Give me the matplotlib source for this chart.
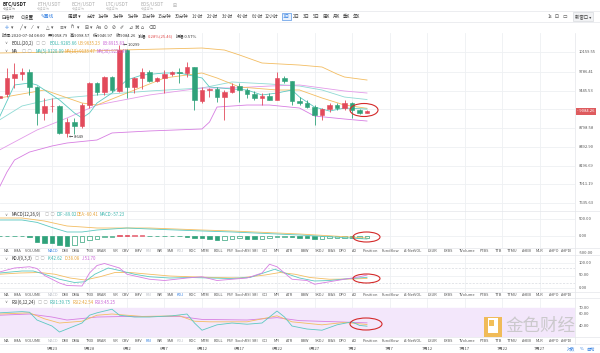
import numpy as np
import matplotlib.pyplot as plt
from matplotlib import transforms
from matplotlib.patches import Ellipse, Rectangle
from matplotlib.lines import Line2D

plt.rcParams['font.family'] = ['Noto Sans CJK SC', 'DejaVu Sans']

# daily candles, day 0 = 5月17
days = np.arange(-1, 49)
opens = [9320, 9383, 9672, 9745, 9782, 9509, 9052, 9173, 9180, 8717, 8899, 8832, 9190, 9581, 9419, 9690,
         9437, 10197, 9509, 9672, 9782, 9617, 9672, 9745, 9782, 9764, 9875, 9260, 9455, 9473, 9330, 9419,
         9526, 9455, 9383, 9313, 9348, 9278, 9672, 9617, 9260, 9225, 9155, 9018, 9121, 9190, 9138, 9225,
         9104, 9058.79]
highs = [9372, 9856, 9950, 9856, 9837, 9520, 9313, 9313, 9185, 8970, 8970, 9225, 9600, 9600, 9700, 9708,
         10299, 10210, 9690, 9856, 9818, 9690, 9818, 9800, 9856, 9970, 9880, 9509, 9491, 9509, 9455, 9581,
         9581, 9491, 9437, 9401, 9401, 9782, 9708, 9620, 9330, 9278, 9190, 9138, 9225, 9225, 9278, 9243,
         9121, 9098.57]
lows = [9300, 9330, 9491, 9636, 9365, 8849, 8934, 9070, 8700, 8649, 8700, 8800, 9138, 9365, 9365, 9419,
        9419, 9313, 9400, 9473, 9600, 9600, 9400, 9708, 9581, 9690, 9104, 9225, 9330, 9243, 8934, 9401,
        9243, 9313, 9278, 9190, 9270, 9270, 9581, 9190, 9190, 9138, 8849, 8934, 9070, 9104, 9104, 8967,
        9040, 9046.97]
closes = [9345, 9672, 9745, 9782, 9509, 9052, 9173, 9180, 8717, 8899, 8832, 9190, 9581, 9419, 9690, 9455,
          10197, 9509, 9672, 9782, 9617, 9672, 9745, 9782, 9764, 9875, 9278, 9455, 9473, 9330, 9419, 9526,
          9455, 9383, 9313, 9348, 9278, 9672, 9617, 9260, 9225, 9155, 9018, 9121, 9190, 9138, 9225, 9104,
          9058.79, 9084.26]

date_days = [6, 11, 16, 21, 26, 31, 36, 41, 46, 51, 56, 61, 66, 71]
date_labels = ['5月23', '5月28', '6月2', '6月7', '6月12', '6月17', '6月22', '6月27',
               '7月2', '7月7', '7月12', '7月17', '7月22', '7月27']

# BOLL / MA lines
ub_d = [-1, 7, 15, 26, 29, 31, 34, 39, 42, 44, 45, 48]
ub_v = [10140, 10159, 10197, 10236, 10197, 10102, 9950, 9912, 9875, 9745, 9690, 9635]
mid_d = [-1, 2, 6, 12, 19, 26, 30, 35, 39, 42, 45, 48]
mid_v = [8934, 9173, 9296, 9366, 9437, 9491, 9599, 9563, 9526, 9455, 9330, 9286]
lb_d = [-1, 0, 1, 3, 6, 8, 12, 14, 19, 26, 27, 28, 32, 35, 39, 41, 45, 48]
lb_v = [7870, 8097, 8282, 8408, 8505, 8553, 8602, 8717, 8750, 8783, 8899, 9155, 9190, 9190, 9138,
        9001, 8950, 8916]
ma5_d = [-1, 1, 3, 4, 6, 7, 9, 10, 11, 12, 14, 16, 18, 21, 23, 26, 27, 30, 32, 34, 36, 38, 39, 41,
         43, 45, 48]
ma5_v = [8984, 9545, 9581, 9545, 9366, 9278, 9052, 8967, 9052, 9225, 9401, 9636, 9726, 9764, 9764,
         9672, 9509, 9473, 9455, 9366, 9401, 9455, 9330, 9155, 9086, 9138, 9120]
ma10_d = [-1, 5, 10, 12, 17, 21, 26, 28, 31, 36, 39, 42, 45, 48]
ma10_v = [9313, 9455, 9225, 9190, 9455, 9672, 9764, 9672, 9509, 9455, 9455, 9313, 9190, 9133]
ma30_d = [-1, 4, 8, 12, 19, 26, 30, 35, 39, 42, 45, 48]
ma30_v = [8441, 8766, 8967, 9190, 9366, 9491, 9491, 9526, 9545, 9491, 9437, 9401]

# MACD
macd_hist = [-10, -10, -10, -10, -15, -167, -196, -216, -265, -284, -265, -167, -118, -78, -39, -15,
             30, 35, 30, 20, -10, -10, -10, -8, -10, -20, -60, -70, -95, -110, -108, -90, -70, -85,
             -95, -80, -70, -40, -30, -40, -50, -55, -90, -85, -60, -55, -50, -60, -58, -57]
dif_d = [-1, 2, 4, 6, 8, 10, 12, 16, 19, 26, 30, 39, 48]
dif_v = [470, 470, 400, 250, 118, 118, 176, 235, 206, 147, 118, 29, -89]
dea_d = [-1, 2, 5, 8, 10, 12, 16, 19, 26, 30, 39, 48]
dea_v = [529, 529, 440, 294, 265, 235, 235, 235, 176, 147, 59, -60]

# KDJ
k_d = [-1, 2, 3.5, 5, 7, 9, 10.4, 11.7, 13.5, 15, 17, 19, 21.7, 24.4, 27, 29.7, 32.4, 34.4, 35.7,
       37.5, 39, 41, 43, 45, 48]
k_v = [60, 68, 68, 55, 35, 22, 25, 55, 80, 70, 55, 45, 40, 42, 40, 38, 42, 62, 75, 55, 40, 28, 30, 36, 42.62]
d_d = [-1, 1.7, 4.4, 6.4, 8.4, 10.4, 12.4, 14.4, 16.4, 19, 21.7, 24.4, 27.7, 31, 34.4, 36.4, 38.4,
       40.4, 43, 45.7, 48]
d_v = [55, 60, 62, 55, 40, 32, 45, 62, 62, 55, 48, 45, 42, 40, 52, 62, 55, 42, 35, 36, 38.08]
j_d = [-1, 1, 3, 4, 5, 7, 8, 10, 11, 12, 13, 15, 16, 19, 21, 24, 26, 28, 30, 32, 34, 35, 36, 38, 40,
       41, 43, 45, 47, 48]
j_v = [64, 80, 85, 78, 50, 20, 10, 8, 60, 90, 98, 80, 55, 35, 30, 40, 45, 30, 35, 40, 60, 95, 85, 35,
       30, 15, 25, 35, 45, 51.7]

# RSI
rsi1_d = [-1, 2, 3, 4, 6, 7, 8, 10, 11, 12, 14, 15, 17, 19, 22, 24, 25, 26, 28, 30, 32, 34, 36, 37,
          38, 40, 42, 44, 46, 47, 48]
rsi1_v = [62, 64, 63, 50, 40, 30, 35, 45, 58, 62, 68, 58, 55, 55, 57, 60, 45, 33, 42, 45, 43, 45, 65,
          55, 40, 35, 33, 42, 47, 41, 39.75]
rsi2_d = [-1, 3, 5, 7, 10, 12, 14, 18, 23, 25, 27, 32, 36, 38, 42, 45, 48]
rsi2_v = [60, 62, 52, 45, 48, 58, 60, 56, 57, 48, 47, 47, 57, 47, 42, 46, 42.54]
rsi3_d = [-1, 3, 6, 8, 12, 16, 23, 26, 32, 36, 39, 44, 48]
rsi3_v = [58, 60, 55, 50, 55, 56, 56, 51, 50, 54, 49, 47, 45.25]

price_ticks = [10159.55, 9786.41, 9445.53, 8798.58, 8492.90, 8196.69, 7911.19, 7635.63]

info_parts = [('时间:2020-07-04 08:00', '#333333'), ('开:9058.79', '#333333'), ('高:9098.57', '#333333'),
              ('低:9046.97', '#333333'), ('收:9084.26', '#333333'), ('涨幅:', '#333333'),
              ('0.28%(25.46)', '#e04a4a'), ('振幅:0.57%', '#333333')]

indicators = ['MA', 'EMA', 'VOLUME', 'MACD', 'DMI', 'DMA', 'TRIX', 'BRAR', 'VR', 'OBV', 'EMV', 'RSI',
              'WR', 'SAR', 'KDJ', 'ROC', 'MTM', 'BOLL', 'PSY', 'StochRSI', 'SMI', 'CCI', 'MFI', 'ATR',
              'BBW', 'SKDJ', 'BIAS', 'DPO', 'AO', 'Position', 'Fundflow', 'AI-NetVOL', 'LSUR', 'EXBS',
              'TVolume', 'FTBS', 'TTB', 'TTMU', 'AHEB', 'MLR', 'AHPO', 'AHPDI']
ind_x = [6, 18, 33, 53, 65, 76, 90, 102, 115, 126, 138, 149, 160, 170, 180, 193, 205, 218, 230, 243,
         255, 265, 277, 290, 305, 320, 332, 343, 355, 370, 390, 413, 433, 448, 467, 484, 498, 512, 527,
         540, 554, 567]

RED, GREEN = '#e24a5b', '#2fa27a'
TEAL, ORANGE, PINK = '#5cc9c1', '#f3bd62', '#d77ee2'
GRID = '#eef0f3'
SYM = ['DejaVu Sans', 'Noto Sans CJK SC']
W, H = 600, 353

fig = plt.figure(figsize=(6, 3.53), dpi=100)


def rect(x0, y0, x1, y1):
    return [x0 / W, 1 - y1 / H, (x1 - x0) / W, (y1 - y0) / H]


def put(x, y, s, size=3.3, color='#333333', **kw):
    return fig.text(x / W, 1 - y / H, s, fontsize=size, color=color, va='center', **kw)


def hline(y, x0=0, x1=600, color='#e4e6ea'):
    fig.add_artist(Line2D([x0 / W, x1 / W], [1 - y / H, 1 - y / H], color=color, lw=0.5))


def panel(y0, y1, ylim, log=False):
    ax = fig.add_axes(rect(0, y0, 575, y1))
    if log:
        ax.set_yscale('log')
    ax.set_xlim(-0.933, 75.733)
    ax.set_ylim(*ylim)
    ax.set_axis_off()
    for d in date_days:
        ax.axvline(d, color=GRID, lw=0.6, zorder=0)
    return ax


def right_labels(ax, vals, labels, grid=True):
    tr = transforms.blended_transform_factory(fig.transFigure, ax.transData)
    for v, s in zip(vals, labels):
        if grid:
            ax.axhline(v, color=GRID, lw=0.6, zorder=0)
        ax.text(579 / W, v, s, transform=tr, fontsize=3, color='#555555', va='center', clip_on=False)


# ---- main price panel ----
ax = panel(33, 211, (7521, 10531), log=True)
right_labels(ax, price_ticks, ['%.2f' % v for v in price_ticks])
ax.axhline(9121, color=GRID, lw=0.6, zorder=0)
ax.plot(ub_d, ub_v, color=ORANGE, lw=0.6)
ax.plot(mid_d, mid_v, color='#8fdad4', lw=0.6)
ax.plot(lb_d, lb_v, color=PINK, lw=0.6)
ax.plot(ma30_d, ma30_v, color='#e39be9', lw=0.6)
ax.plot(ma10_d, ma10_v, color=ORANGE, lw=0.6)
ax.plot(ma5_d, ma5_v, color=TEAL, lw=0.6)
o, h, l, c = map(np.array, (opens, highs, lows, closes))
col = np.where(c >= o, RED, GREEN)
ax.vlines(days, l, h, colors=col, lw=0.6, zorder=3)
ax.bar(days, np.abs(c - o), bottom=np.minimum(o, c), width=0.62, color=col, edgecolor=col, lw=0.4, zorder=4)
ax.text(days[np.argmin(l)] + 0.3, l.min(), '← %d' % l.min(), fontsize=3, color='#333', va='center')
ax.text(days[np.argmax(h)] + 0.5, h.max(), '← %d' % h.max(), fontsize=3, color='#333', va='center')
trp = transforms.blended_transform_factory(fig.transFigure, ax.transData)
ax.text(577 / W, c[-1], '- %.2f' % c[-1], transform=trp, fontsize=3, color='white', va='center',
        clip_on=False, bbox=dict(boxstyle='square,pad=0.35', fc='#de5b5e', ec='none'))

# ---- MACD ----
axm = panel(211, 248, (-353, 735))
right_labels(axm, [500, 0, -500], ['500.00', '0.00', '-500.00'])
hist = np.array(macd_hist, dtype=float)
prev = np.concatenate([[hist[0]], hist[:-1]])
hcol = np.where(hist >= 0, RED, GREEN)
face = np.where(np.abs(hist) >= np.abs(prev), hcol, 'white')
axm.bar(days, hist, width=0.62, color=face, edgecolor=hcol, lw=0.5)
axm.plot(dea_d, dea_v, color=ORANGE, lw=0.6)
axm.plot(dif_d, dif_v, color=TEAL, lw=0.6)

# ---- KDJ ----
axk = panel(255, 292, (-16, 132))
right_labels(axk, [100, 50, 0], ['100.00', '50.00', '0.00'])
for lv in (80, 20):
    axk.axhline(lv, color='#d8dbe0', lw=0.5, ls=(0, (3, 2)), zorder=0)
axk.plot(d_d, d_v, color=ORANGE, lw=0.6)
axk.plot(k_d, k_v, color=TEAL, lw=0.6)
axk.plot(j_d, j_v, color=PINK, lw=0.6)

# ---- RSI ----
axr = panel(298, 337, (21.7, 86.7))
axr.axhspan(0, 70, color='#f3e7fb', zorder=0)
right_labels(axr, [70, 60, 40], ['70.00', '60.00', '40.00'], grid=False)
axr.plot(rsi3_d, rsi3_v, color=PINK, lw=0.6)
axr.plot(rsi2_d, rsi2_v, color=ORANGE, lw=0.6)
axr.plot(rsi1_d, rsi1_v, color=TEAL, lw=0.6)
trd = transforms.blended_transform_factory(axr.transData, fig.transFigure)
for d, s in zip(date_days, date_labels):
    axr.text(d, 1 - 348.5 / H, s, transform=trd, fontsize=3, color='#555555', ha='center', va='center',
             clip_on=False)

# ---- frame lines ----
for y in (11, 22, 211, 248, 255, 292, 298, 337, 344):
    hline(y)
fig.add_artist(Line2D([575 / W, 575 / W], [1 - 33 / H, 1 - 344 / H], color='#e4e6ea', lw=0.5))

# ---- header ----
put(3, 4.5, 'BTC/USDT', 3.4, '#222222', weight='bold')
put(3, 8.5, '永续合约', 2.3, '#999999')
for i, t in enumerate(['ETH/USDT', 'BCH/USDT', 'LTC/USDT', 'EOS/USDT']):
    put(37 + i * 34.5, 4.5, t, 3.4, '#aaaaaa')
    put(37 + i * 34.5, 8.5, '永续合约', 2.3, '#c0c0c0')
put(173, 5.5, '⊞', 3.5, '#aaaaaa', family=SYM)

put(2, 16.5, '⊟指标', 3.3, family=SYM)
put(21, 16.5, '⊙设置', 3.3, family=SYM)
put(41, 16.5, '✎画线', 3.3, '#2f7de1', family=SYM)
put(68, 16.5, '周期 ▾', 3.3)
periods = ['分时', '1分钟', '3分钟', '5分钟', '10分钟', '15分钟', '30分钟', '1小时', '2小时', '3小时',
           '4小时', '6小时', '12小时', '1日', '2日', '3日', '5日', '周K', '月K', '季K', '年K']
period_x = [87, 98, 113, 128, 142, 158, 175, 192, 207, 222, 237, 252, 265, 283, 293, 303, 313, 323,
            333, 343, 353]
for t, x in zip(periods, period_x):
    if t == '1日':
        put(x, 16.5, t, 3.2, '#2f7de1',
            bbox=dict(boxstyle='square,pad=0.25', fc='#eaf2fd', ec='#2f7de1', lw=0.4))
    else:
        put(x, 16.5, t, 3.2, '#444444')
put(548, 16.5, '1s', 3.2, '#444444')
put(555, 16.5, '⊡', 3.4, '#444444', family=SYM)
put(563, 16.5, '▭', 3.4, '#444444', family=SYM)
put(575, 16.5, '新窗口 ▾', 3.2, '#444444',
    bbox=dict(boxstyle='square,pad=0.4', fc='#f1f2f4', ec='#d0d3d8', lw=0.4))

tools = ['✛', '▾', '╱', '▾', '⁄', '▾', '△', '▾', '≡', '▾', 'ℏ', '▾', '⊞', '▾', 'Aa', '⊙', '⊘', '✐',
         '⊿', '⌘', '⌂', '⌫']
tool_x = [5, 11, 19, 24, 32, 37, 46, 51, 59, 64, 71, 77, 85, 90, 96, 104, 112, 120, 128, 134, 141, 148]
for t, x in zip(tools, tool_x):
    put(x, 27.5, t, 3.4, '#2f7de1' if t == '✛' else '#555555', family=SYM)

# info row, parts placed one after another
renderer = fig.canvas.get_renderer()
xcur = 2
for s, colr in info_parts:
    t = put(xcur, 36, s, 3.0, colr)
    bb = t.get_window_extent(renderer)
    xcur = bb.x1 + (0.5 if s.endswith(':') else 2.5)


# ---- panel legends ----
def legend(y, name, icon_x, parts):
    put(4, y, '∨', 3, '#777777', family=SYM)
    put(12, y, name, 3.1, '#333333')
    put(icon_x, y, '▢ ▢', 3.2, '#aaaaaa', family=SYM)
    for x, s, colr in parts:
        put(x, y, s, 3.1, colr)


legend(43.5, 'BOLL(20,2)', 36, [(50, 'BOLL:9285.66', '#3bb5ad'), (78, 'UB:9635.23', '#e7a43a'),
                                (103, 'LB:8915.83', '#c965d6')])
legend(51.5, 'MA', 22, [(36, 'MA(5):9120.09', '#3bb5ad'), (65, 'MA(10):9133.47', '#e7a43a'),
                        (97, 'MA(30):9256.46', '#c965d6')])
legend(214.5, 'MACD(12,26,9)', 45, [(57, 'DIF:-89.02', '#3bb5ad'), (77, 'DEA:-60.41', '#e7a43a'),
                                    (100, 'MACD:-57.23', '#3bb5ad')])
legend(258.5, 'KDJ(9,3,3)', 35, [(48, 'K:42.62', '#3bb5ad'), (65, 'D:38.08', '#e7a43a'),
                                 (82, 'J:51.70', '#c965d6')])
legend(302, 'RSI(6,12,24)', 38, [(50, 'RSI1:39.75', '#3bb5ad'), (73, 'RSI2:42.54', '#e7a43a'),
                                 (95, 'RSI3:45.25', '#c965d6')])

# ---- indicator tab rows ----
for y, active in ((251.5, 'MACD'), (295, 'KDJ'), (340.5, 'RSI')):
    for name, x in zip(indicators, ind_x):
        if name == active:
            colr = '#2f7de1'
        elif name in ('MACD', 'KDJ', 'RSI'):
            colr = '#b8bcc4'
        else:
            colr = '#555555'
        put(x, y, name, 2.8, colr, ha='center')

# ---- annotations ----
for cx, cy, ew, eh in ((364, 110, 28, 13), (366.5, 237, 27, 10), (366.5, 278.5, 27, 9), (366, 324, 32, 12)):
    fig.add_artist(Ellipse((cx / W, 1 - cy / H), ew / W, eh / H, transform=fig.transFigure,
                           fill=False, ec='#d42a2a', lw=0.8))

# ---- watermark ----
fig.add_artist(Rectangle((484 / W, 1 - 337 / H), 18 / W, 20 / H, transform=fig.transFigure,
                         fc='#f0b43c', ec='none', alpha=0.85))
fig.add_artist(Rectangle((488 / W, 1 - 333 / H), 10 / W, 15 / H, transform=fig.transFigure,
                         fc='white', ec='none'))
fig.add_artist(Rectangle((489 / W, 1 - 326 / H), 5 / W, 6 / H, transform=fig.transFigure,
                         fc='#f0b43c', ec='none', alpha=0.85))
put(505, 326, '金色财经', 12.6, '#c4c4c4', alpha=0.85)
put(567, 349.5, '对数', 3, '#2f7de1')
put(580, 349.5, '%', 3, '#2f7de1')
put(586, 349.5, '自动', 3, '#2f7de1')

fig.savefig('out.png', dpi=100, facecolor='white')
